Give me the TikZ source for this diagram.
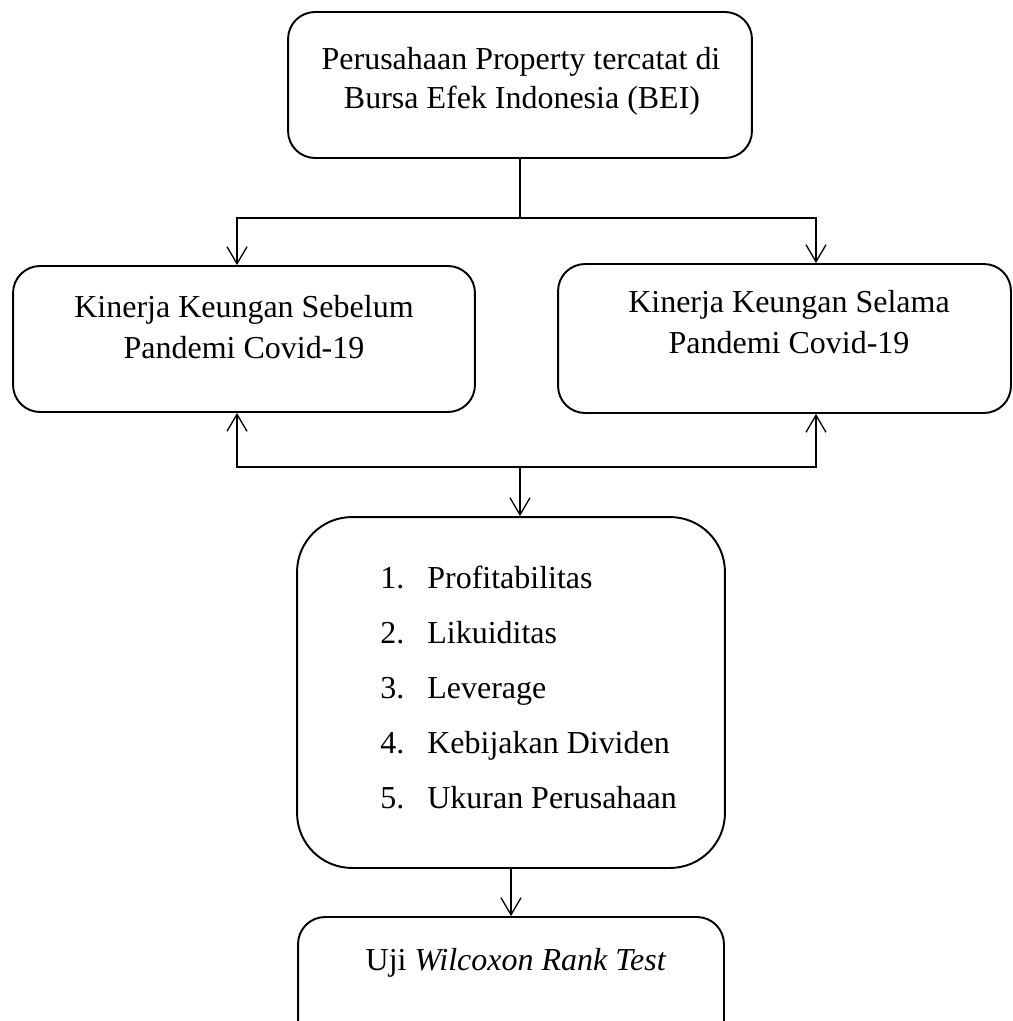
\documentclass[tikz,border=0pt]{standalone}
\usepackage{fontspec}
\setmainfont{Liberation Serif}
\usetikzlibrary{arrows.meta}

\begin{document}
\begin{tikzpicture}[x=0.02cm, y=-0.02cm,
    box/.style={draw, rectangle, rounded corners=0.54cm, line width=1.1pt, inner sep=0pt},
    wire/.style={draw, line width=0.75pt},
    arr/.style={wire, -{Straight Barb[length=0.34cm, width=0.4cm]}},
    lbl/.style={font=\fontsize{18.2}{22}\selectfont, inner sep=0pt, anchor=base},
  ]

  \useasboundingbox (0,0) rectangle (1013,1021);

  % ---- the boxes
  \node[box, minimum width=9.28cm, minimum height=2.92cm] (bei) at (520,85) {};
  \node[box, minimum width=9.24cm, minimum height=2.92cm] (pre) at (244,339) {};
  \node[box, minimum width=9.06cm, minimum height=2.98cm] (dur) at (784.5,338.5) {};
  \node[box, rounded corners=1.1cm, minimum width=8.56cm, minimum height=7.02cm] (ratio) at (511,692.5) {};
  \node[box, minimum width=8.52cm, minimum height=2.92cm] (uji) at (511,990) {};

  % ---- box texts
  \foreach \i/\x/\y/\t in {%
      1/521/69/{Perusahaan Property tercatat di},
      2/522/108/{Bursa Efek Indonesia (BEI)},
      3/244/317/{Kinerja Keungan Sebelum},
      4/244/358/{Pandemi Covid-19},
      5/789/312/{Kinerja Keungan Selama},
      6/789/353/{Pandemi Covid-19}} {
    \node[lbl] (t\i) at (\x,\y) {\t};
  }
  \node[lbl] (tuji) at (516,970) {Uji \textit{Wilcoxon Rank Test}};

  % ---- the list of ratios
  \foreach \n/\y/\t in {%
      1/588/Profitabilitas,
      2/643/Likuiditas,
      3/698/Leverage,
      4/753/Kebijakan Dividen,
      5/808/Ukuran Perusahaan} {
    \node[lbl, anchor=base west] (n\n) at (380,\y) {\n.};
    \node[lbl, anchor=base west] (r\n) at (427,\y) {\t};
  }

  % ---- branching from the top box
  \coordinate (bl) at (237,218);
  \coordinate (br) at (816,218);
  \draw[arr] (bei.south) -- (bei.south |- bl) -- (bl) -- (bl |- pre.north);
  \draw[arr] (bei.south |- br) -- (br) -- (br |- dur.north);

  % ---- joining the two periods
  \coordinate (cl) at (237,467);
  \coordinate (cr) at (816,467);
  \coordinate (cm) at (520,467);
  \draw[arr] (cm) -- (cl) -- (cl |- pre.south);
  \draw[arr] (cm) -- (cr) -- (cr |- dur.south);
  \draw[arr] (cm) -- (cm |- ratio.north);

  \draw[arr] (ratio.south) -- (uji.north);

\end{tikzpicture}
\end{document}
